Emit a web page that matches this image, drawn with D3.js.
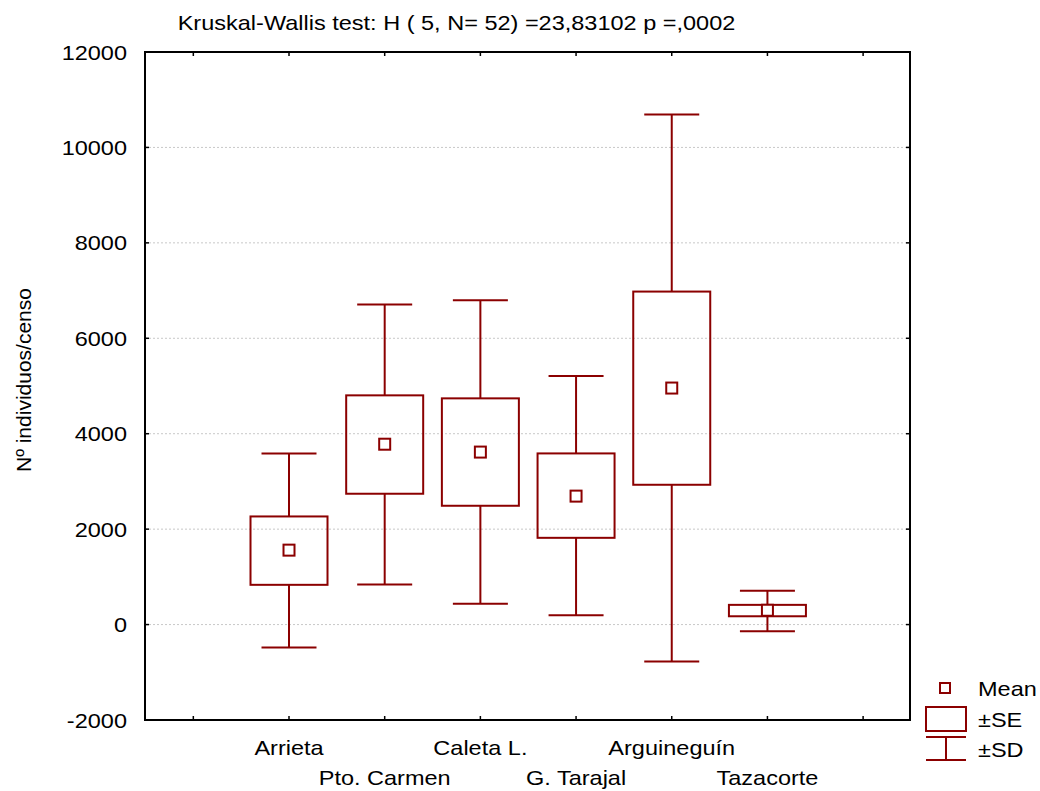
<!DOCTYPE html>
<html>
<head>
<meta charset="utf-8">
<script src="https://cdn.jsdelivr.net/npm/d3@7"></script>
<style>
body { margin: 0; background: #fff; }
text { font-family: "Liberation Sans", Arial, sans-serif; fill: #000; }
</style>
</head>
<body>
<div id="chart"></div>
<script>
// values
var sites = ["Arrieta", "Pto. Carmen", "Caleta L.", "G. Tarajal", "Arguineguín", "Tazacorte"];
var mean = [1560, 3780, 3615, 2692, 4957, 300];
var seLow = [833, 2742, 2490, 1818, 2930, 174];
var seHigh = [2266, 4804, 4741, 3587, 6979, 413];
var sdLow = [-482, 839, 434, 196, -776, -140];
var sdHigh = [3587, 6707, 6797, 5209, 10692, 707];
var yTicks = [-2000, 0, 2000, 4000, 6000, 8000, 10000, 12000];
var title = "Kruskal-Wallis test: H ( 5, N= 52) =23,83102 p =,0002";
var yLabel = "Nº individuos/censo";
var legendItems = ["Mean", "±SE", "±SD"];

(function(){
	var W = 1040, H = 791;
	var RED = "#8b0000";
	var FS = "21px";
	var SX = 1.12; //text in the reference is a bit stretched sideways
	var pl = 145, pr = 910, pt = 52, pb = 720;

	var svg = d3.select("#chart").append("svg")
		.attr("width", W)
		.attr("height", H);

	// category slots 0..7, data in 1..6
	var x = d3.scaleLinear().domain([-0.505, 7.49]).range([pl, pr]);
	var y = d3.scaleLinear().domain([-2000, 12000]).range([pb, pt]);

	function label(parent, tx, ty, str, anchor){
		return parent.append("text")
			.attr("transform", "translate(" + tx + "," + ty + ") scale(" + SX + ",1)")
			.attr("text-anchor", anchor || "start")
			.style("font-size", FS)
			.text(str);
	}

	//GRID
	svg.append("g").selectAll("line")
		.data(yTicks.filter(function(t){ return t > -2000 && t < 12000; }))
		.enter().append("line")
		.attr("x1", pl).attr("x2", pr)
		.attr("y1", function(d){ return y(d); })
		.attr("y2", function(d){ return y(d); })
		.attr("stroke", "#c8c8c8")
		.attr("stroke-width", 1)
		.attr("stroke-dasharray", "2,2");

	//FRAME AND TICKS (INWARD)
	svg.append("rect")
		.attr("x", pl).attr("y", pt)
		.attr("width", pr - pl).attr("height", pb - pt)
		.attr("fill", "none")
		.attr("stroke", "#000")
		.attr("stroke-width", 2);

	var tk = svg.append("g").attr("stroke", "#000").attr("stroke-width", 1.5);
	d3.range(0, 8).forEach(function(p){
		tk.append("line").attr("x1", x(p)).attr("x2", x(p)).attr("y1", pb).attr("y2", pb - 4);
		tk.append("line").attr("x1", x(p)).attr("x2", x(p)).attr("y1", pt).attr("y2", pt + 4);
	});
	yTicks.forEach(function(t){
		tk.append("line").attr("x1", pl).attr("x2", pl + 4).attr("y1", y(t)).attr("y2", y(t));
		tk.append("line").attr("x1", pr).attr("x2", pr - 4).attr("y1", y(t)).attr("y2", y(t));
	});

	var yl = svg.append("g");
	yTicks.forEach(function(t){
		label(yl, 127, y(t) + 7.5, t, "end");
	});

	var xl = svg.append("g");
	sites.forEach(function(s, i){
		label(xl, x(i + 1), i % 2 == 0 ? 755 : 785, s, "middle");
	});

	label(svg, 456.5, 30, title, "middle");

	svg.append("text")
		.attr("transform", "translate(31,380) rotate(-90)")
		.attr("text-anchor", "middle")
		.style("font-size", FS)
		.text(yLabel);

	//BOXES
	var g = svg.append("g")
		.attr("stroke", RED)
		.attr("stroke-width", 2)
		.attr("fill", "none");

	sites.forEach(function(s, i){
		var cx = x(i + 1);
		g.append("line").attr("x1", cx).attr("x2", cx).attr("y1", y(sdHigh[i])).attr("y2", y(seHigh[i]));
		g.append("line").attr("x1", cx).attr("x2", cx).attr("y1", y(seLow[i])).attr("y2", y(sdLow[i]));
		g.append("line").attr("x1", cx - 27.5).attr("x2", cx + 27.5).attr("y1", y(sdHigh[i])).attr("y2", y(sdHigh[i]));
		g.append("line").attr("x1", cx - 27.5).attr("x2", cx + 27.5).attr("y1", y(sdLow[i])).attr("y2", y(sdLow[i]));
		g.append("rect")
			.attr("x", cx - 38.5).attr("width", 77)
			.attr("y", y(seHigh[i]))
			.attr("height", y(seLow[i]) - y(seHigh[i]));
		g.append("rect")
			.attr("x", cx - 5.5).attr("y", y(mean[i]) - 5.5)
			.attr("width", 11).attr("height", 11)
			.attr("fill", "#fff");
	});

	//LEGEND
	var lg = svg.append("g")
		.attr("stroke", RED)
		.attr("stroke-width", 2)
		.attr("fill", "none");
	lg.append("rect").attr("x", 940).attr("y", 683).attr("width", 10).attr("height", 10);
	lg.append("rect").attr("x", 926).attr("y", 707).attr("width", 40).attr("height", 24);
	lg.append("line").attr("x1", 926).attr("x2", 966).attr("y1", 737).attr("y2", 737);
	lg.append("line").attr("x1", 926).attr("x2", 966).attr("y1", 760).attr("y2", 760);
	lg.append("line").attr("x1", 946).attr("x2", 946).attr("y1", 737).attr("y2", 760);

	var lt = svg.append("g");
	legendItems.forEach(function(d, i){
		label(lt, 978, [696, 727, 757][i], d, "start");
	});
})();
</script>
</body>
</html>
